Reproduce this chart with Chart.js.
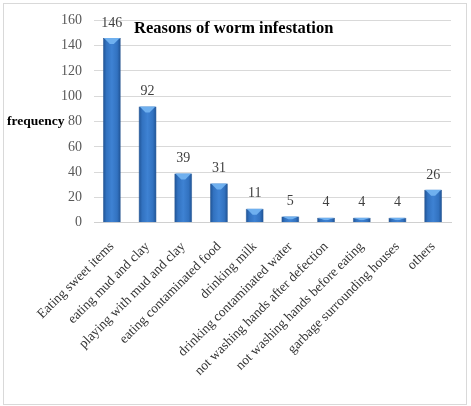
<!DOCTYPE html>
<html>
<head>
<meta charset="utf-8">
<script src="https://cdn.jsdelivr.net/npm/chart.js@4/dist/chart.umd.min.js"></script>
<style>
  html, body { margin: 0; padding: 0; background: #fff; }
  #wrap { width: 471px; height: 406px; position: relative; }
</style>
</head>
<body>
<div id="wrap"><canvas id="wormChart" width="471" height="406"></canvas></div>
<script>
var reasonLabels = ['Eating sweet items', 'eating mud and clay', 'playing with mud and clay', 'eating contaminated food',
  'drinking milk', 'drinking contaminated water', 'not washing hands after defection',
  'not washing hands before eating', 'garbage surrounding houses', 'others'];
var frequencyData = [146, 92, 39, 31, 11, 5, 4, 4, 4, 26];
var yTicks = [0, 20, 40, 60, 80, 100, 120, 140, 160];
var chartTitle = 'Reasons of worm infestation';
var yTitle = 'frequency';

const serif = '"Liberation Serif", "Times New Roman", serif';

function barGradient(context) {
  var chart = context.chart;
  if (!chart.chartArea) return '#2e6db4';
  var el = context.element;
  var x = chart.scales.x.getPixelForValue(context.dataIndex);
  var half = el && el.width ? el.width / 2 : 9;
  var g = chart.ctx.createLinearGradient(x - half, 0, x + half, 0);
  g.addColorStop(0, '#1d4f8f');
  g.addColorStop(0.2, '#3272c0');
  g.addColorStop(0.5, '#3e82d3');
  g.addColorStop(0.8, '#3272c0');
  g.addColorStop(1, '#1d4f8f');
  return g;
}

// border around the whole picture
const frame = {
  id: 'frame',
  beforeDraw(chart) {
    const ctx = chart.ctx;
    ctx.save();
    ctx.fillStyle = '#fff';
    ctx.fillRect(0, 0, chart.width, chart.height);
    ctx.strokeStyle = '#d9d9d9';
    ctx.lineWidth = 1;
    ctx.strokeRect(3.5, 3.5, 463, 401);
    ctx.restore();
  }
};

// top bevel highlight, value labels, title and horizontal y title
const extras = {
  id: 'extras',
  afterDatasetsDraw(chart) {
    const ctx = chart.ctx;
    const meta = chart.getDatasetMeta(0);
    ctx.save();
    meta.data.forEach(function (bar, i) {
      var left = bar.x - bar.width / 2;
      var right = bar.x + bar.width / 2;
      var h = Math.min(6, (bar.base - bar.y) / 2);
      ctx.fillStyle = '#6fb0ef';
      ctx.beginPath();
      ctx.moveTo(left + 1, bar.y);
      ctx.lineTo(right - 1, bar.y);
      ctx.lineTo(bar.x + 2, bar.y + h);
      ctx.lineTo(bar.x - 2, bar.y + h);
      ctx.closePath();
      ctx.fill();

      ctx.fillStyle = '#404040';
      ctx.font = '14px ' + serif;
      ctx.textAlign = 'center';
      ctx.textBaseline = 'bottom';
      ctx.fillText(frequencyData[i], bar.x, bar.y - 8);
    });

    const area = chart.chartArea;
    ctx.fillStyle = '#000';
    ctx.font = 'bold 16.5px ' + serif;
    ctx.textAlign = 'left';
    ctx.textBaseline = 'middle';
    ctx.fillText(chartTitle, area.left + 40, 29);

    const y = chart.scales.y;
    ctx.font = 'bold 13.5px ' + serif;
    ctx.textAlign = 'left';
    ctx.fillText(yTitle, 7, y.getPixelForValue(80));
    ctx.restore();
  }
};

new Chart(document.getElementById('wormChart'), {
  type: 'bar',
  data: {
    labels: reasonLabels,
    datasets: [{
      label: 'frequency',
      data: frequencyData,
      backgroundColor: barGradient,
      borderColor: '#1b4a85',
      borderWidth: 0.5,
      categoryPercentage: 1,
      barPercentage: 0.5
    }]
  },
  options: {
    responsive: false,
    animation: false,
    layout: { padding: { left: 49, right: 20, top: 9, bottom: 19 } },
    plugins: {
      legend: { display: false },
      tooltip: { enabled: false }
    },
    scales: {
      x: {
        grid: { display: false },
        border: { color: '#d0d0d0' },
        ticks: {
          color: '#333',
          font: { family: serif, size: 13.5 },
          minRotation: 45,
          maxRotation: 45,
          autoSkip: false,
          padding: 8
        }
      },
      y: {
        min: 0,
        max: 160,
        afterBuildTicks: function (axis) {
          axis.ticks = yTicks.map(function (v) { return { value: v }; });
        },
        grid: { color: '#d9d9d9', drawTicks: false },
        border: { display: false },
        ticks: {
          color: '#595959',
          font: { family: serif, size: 14 },
          padding: 12
        }
      }
    }
  },
  plugins: [frame, extras]
});
</script>
</body>
</html>
